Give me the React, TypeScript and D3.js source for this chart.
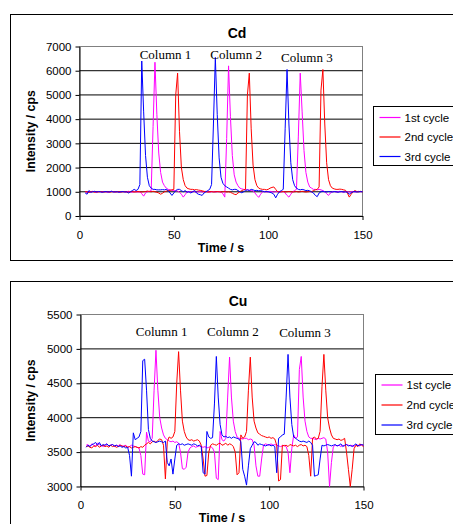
import React, { useEffect, useRef } from "react";
import * as d3 from "d3";

// one reading per second, 3 s .. 150 s
const times = d3.range(3, 151);

const seriesNames = ["1st cycle", "2nd cycle", "3rd cycle"];
const seriesColors = ["#ff00ff", "#ff0000", "#0000ff"];
const columnNames = ["Column 1", "Column 2", "Column 3"];
const timeTicks = [0, 50, 100, 150];
const cdTicks = [0, 1000, 2000, 3000, 4000, 5000, 6000, 7000];
const cuTicks = [3000, 3500, 4000, 4500, 5000, 5500];

// Cd, counts per second
const cd1st = [
  1000, 980, 1010, 990, 1020, 1000, 970, 1010, 1000, 990,
  1010, 1000, 980, 1000, 1020, 990, 1000, 1010, 980, 1000,
  1010, 990, 1000, 1020, 1000, 980, 1010, 1000, 990, 1000,
  920, 820, 950, 1000, 1020, 1050, 3700, 6350, 4200, 2600,
  1800, 1400, 1250, 1150, 1100, 1080, 1060, 1050, 1040, 1030,
  980, 900, 780, 880, 1000, 1010, 990, 1000, 1010, 980,
  1000, 1010, 990, 1000, 1020, 1000, 980, 1000, 1010, 990,
  1000, 1010, 990, 920, 780, 3200, 6200, 4100, 2500, 1700,
  1400, 1250, 1150, 1120, 1100, 1090, 1080, 1070, 1050, 1040,
  950, 850, 770, 900, 1000, 1010, 990, 1000, 1020, 1000,
  990, 1000, 1010, 990, 1000, 1010, 950, 850, 780, 900,
  1000, 1050, 1100, 3300, 5900, 4300, 2700, 1800, 1400, 1200,
  1150, 1100, 1100, 1080, 1100, 1080, 1050, 1000, 920, 850,
  950, 1000, 1010, 990, 1000, 1020, 1000, 980, 1010, 1000,
  990, 1000, 1010, 990, 1000, 1020, 1000, 1010,
];
const cd2nd = [
  1010, 990, 970, 1000, 1010, 980, 1000, 990, 1010, 1000,
  990, 1000, 1010, 980, 1000, 1010, 990, 1000, 1010, 990,
  1000, 1010, 990, 980, 1000, 1010, 990, 1000, 1010, 1000,
  990, 1000, 1010, 1030, 1010, 1000, 1020, 1000, 980, 950,
  900, 940, 1000, 1030, 1050, 1060, 1080, 1100, 5000, 5900,
  3500, 2000, 1500, 1250, 1150, 1120, 1100, 1100, 1080, 1090,
  1070, 1060, 1040, 1020, 1000, 990, 1000, 1010, 990, 1000,
  1010, 1000, 990, 1000, 1010, 990, 1000, 980, 940, 900,
  880, 950, 1000, 1050, 1080, 1100, 5000, 5900, 3600, 2100,
  1500, 1250, 1150, 1120, 1100, 1100, 1080, 1100, 1150, 1180,
  1200, 1100, 1000, 990, 1000, 1010, 990, 1000, 1010, 1000,
  990, 1000, 1010, 990, 1000, 1020, 1000, 990, 1000, 1010,
  1000, 1050, 1080, 1100, 1200, 5200, 6050, 3800, 2200, 1500,
  1250, 1150, 1120, 1100, 1100, 1110, 1100, 1080, 1060, 950,
  780, 900, 1000, 1050, 1010, 1000, 1020, 1000,
];
const cd3rd = [
  950, 900, 1050, 980, 1000, 1020, 990, 1010, 1000, 980,
  1000, 1010, 990, 1000, 1020, 990, 1000, 1000, 980, 1000,
  1010, 990, 1000, 950, 1000, 1050, 1100, 1050, 1100, 1300,
  6400, 4300, 2500, 1600, 1250, 1150, 1100, 1100, 1080, 1080,
  1080, 1090, 1080, 1100, 1050, 950, 850, 950, 1050, 1100,
  1100, 1050, 1000, 1050, 980, 1000, 950, 1000, 1050, 950,
  900, 880, 850, 950, 1000, 1050, 1100, 1300, 3800, 6550,
  4200, 2400, 1600, 1350, 1250, 1200, 1150, 1100, 1080, 1100,
  1100, 1050, 1000, 960, 1000, 1050, 1080, 1050, 1100, 1080,
  1050, 1060, 1040, 1050, 1030, 1000, 1010, 1000, 980, 950,
  900, 750, 900, 1000, 1050, 1100, 3600, 6050, 3800, 2200,
  1500, 1250, 1150, 1100, 1080, 1100, 1080, 1050, 1060, 1040,
  1000, 950, 850, 800, 950, 1000, 1020, 1000, 990, 1010,
  1000, 990, 1010, 1000, 980, 1000, 1010, 990, 1000, 980,
  900, 960, 1000, 1010, 990, 1000, 1010, 1000,
];

// Cu, counts per second
const cu1st = [
  3600, 3610, 3580, 3620, 3600, 3590, 3630, 3610, 3600, 3580,
  3600, 3620, 3590, 3600, 3610, 3580, 3600, 3590, 3610, 3580,
  3590, 3600, 3570, 3580, 3600, 3590, 3580, 3570, 3560, 3450,
  3180, 3170, 3790, 3660, 3650, 3700, 4400, 4980, 4400, 4000,
  3850, 3750, 3700, 3680, 3660, 3650, 3660, 3640, 3650, 3630,
  3500, 3260, 3250, 3280, 3500, 3560, 3580, 3590, 3570, 3580,
  3590, 3580, 3570, 3580, 3560, 3570, 3580, 3560, 3500, 3120,
  3100, 3800, 3680, 3660, 3700, 4300, 4880, 4300, 3950, 3800,
  3720, 3700, 3700, 3690, 3700, 3700, 3680, 3690, 3680, 3600,
  3300, 3150, 3150, 3400, 3600, 3620, 3610, 3600, 3620, 3600,
  3610, 3600, 3590, 3580, 3590, 3600, 3580, 3500, 3200, 3550,
  3750, 3700, 3720, 4700, 4890, 4300, 3950, 3800, 3720, 3700,
  3700, 3690, 3680, 3700, 3690, 3700, 3710, 3690, 3500, 3000,
  3350, 3580, 3600, 3590, 3600, 3580, 3600, 3590, 3610, 3600,
  3590, 3600, 3580, 3610, 3600, 3590, 3610, 3600,
];
const cu2nd = [
  3580, 3590, 3570, 3560, 3590, 3580, 3600, 3570, 3590, 3600,
  3580, 3590, 3570, 3600, 3580, 3590, 3570, 3580, 3600, 3590,
  3580, 3590, 3570, 3580, 3560, 3570, 3580, 3570, 3560, 3580,
  3570, 3600, 3620, 3640, 3620, 3650, 3660, 3640, 3670, 3690,
  3680, 3600, 3110, 3650, 3720, 3700, 3720, 3800, 4500, 4960,
  4400, 3950, 3800, 3720, 3680, 3670, 3680, 3660, 3670, 3680,
  3660, 3600, 3400, 3150, 3160, 3500, 3600, 3620, 3610, 3600,
  3620, 3630, 3600, 3610, 3630, 3600, 3620, 3610, 3580, 3500,
  3170, 3200, 3750, 3700, 3720, 3800, 4400, 4880, 4300, 3950,
  3850, 3780, 3760, 3740, 3730, 3720, 3710, 3720, 3700, 3710,
  3690, 3600, 3080, 3100, 3600, 3590, 3600, 3580, 3610, 3600,
  3590, 3600, 3580, 3600, 3610, 3590, 3600, 3580, 3450, 3150,
  3700, 3720, 3690, 3700, 3800, 4450, 4920, 4400, 4000, 3850,
  3750, 3700, 3690, 3680, 3690, 3670, 3680, 3700, 3500, 3250,
  3000, 3250, 3550, 3600, 3580, 3620, 3600, 3580,
];
const cu3rd = [
  3570, 3600, 3580, 3610, 3620, 3640, 3600, 3640, 3590, 3610,
  3600, 3620, 3590, 3600, 3610, 3590, 3600, 3580, 3590, 3570,
  3580, 3560, 3570, 3450, 3150, 3780, 3680, 3700, 3720, 3800,
  4830, 4850, 4400, 3830, 3700, 3660, 3650, 3640, 3650, 3660,
  3650, 3640, 3660, 3350, 3300, 3400, 3180, 3400, 3600, 3620,
  3610, 3620, 3600, 3610, 3620, 3610, 3600, 3620, 3610, 3590,
  3600, 3580, 3200, 3180, 3800, 3720, 3700, 3710, 4200, 4890,
  4300, 3900, 3750, 3720, 3730, 3710, 3720, 3700, 3720, 3710,
  3700, 3690, 3650, 3250, 3150, 3020, 3300, 3550, 3600, 3650,
  3640, 3600, 3620, 3610, 3600, 3590, 3600, 3610, 3590, 3600,
  3580, 3200, 3700, 3720, 3750, 3760, 4300, 4920, 4300, 3900,
  3720, 3700, 3680, 3660, 3650, 3660, 3650, 3640, 3660, 3640,
  3600, 3150, 3160, 3170, 3400, 3600, 3590, 3600, 3610, 3600,
  3590, 3600, 3610, 3590, 3600, 3620, 3580, 3600, 3610, 3590,
  3600, 3580, 3600, 3620, 3590, 3600, 3610, 3600,
];

const SANS = "Arial, 'Liberation Sans', sans-serif";
const SERIF = "'Times New Roman', 'Liberation Serif', serif";

function drawChart(root, c) {
  const g = root.append("g");

  // outer frame (runs off the right edge of the page)
  g.append("rect")
    .attr("x", c.frame[0]).attr("y", c.frame[1])
    .attr("width", c.frame[2]).attr("height", c.frame[3])
    .attr("fill", "white").attr("stroke", "black").attr("stroke-width", 1);

  var x = d3.scaleLinear().domain([0, 150]).range([c.left, c.right]);
  var y = d3.scaleLinear().domain([c.ticks[0], c.ticks[c.ticks.length - 1]]).range([c.bottom, c.top]);

  // plot area border (grey top/right)
  g.append("rect")
    .attr("x", c.left).attr("y", c.top)
    .attr("width", c.right - c.left).attr("height", c.bottom - c.top)
    .attr("fill", "white").attr("stroke", "#808080");

  // gridlines
  g.selectAll(".grid")
    .data(c.ticks.slice(1, -1))
    .enter()
    .append("line")
    .attr("x1", c.left).attr("x2", c.right)
    .attr("y1", d => y(d)).attr("y2", d => y(d))
    .attr("stroke", "black").attr("stroke-width", 1);

  // axes
  const yAxis = g.append("g")
    .attr("transform", "translate(" + c.left + ",0)")
    .call(d3.axisLeft(y).tickValues(c.ticks).tickSize(4).tickSizeOuter(0).tickPadding(4).tickFormat(d3.format("d")));
  const xAxis = g.append("g")
    .attr("transform", "translate(0," + c.bottom + ")")
    .call(d3.axisBottom(x).tickValues(timeTicks).tickSize(4).tickSizeOuter(0).tickPadding(c.xPad).tickFormat(d3.format("d")));
  [yAxis, xAxis].forEach(a => {
    a.selectAll("text").style("font-family", SANS).style("font-size", "11.5px").attr("fill", "black");
    a.selectAll("line,path").attr("stroke", "black");
  });

  // series
  const line = d3.line().x((d, i) => x(times[i])).y(d => y(d));
  c.series.forEach((s, i) => {
    g.append("path")
      .attr("d", line(s))
      .attr("fill", "none")
      .attr("stroke", seriesColors[i])
      .attr("stroke-width", 1);
  });

  // column annotations
  columnNames.forEach((name, i) => {
    g.append("text")
      .attr("x", x(c.columnAt[i][0])).attr("y", y(c.columnAt[i][1]))
      .attr("text-anchor", "middle")
      .style("font-family", SERIF).style("font-size", "13px")
      .text(name);
  });

  // titles
  g.append("text")
    .attr("x", c.titleX).attr("y", c.titleY)
    .attr("text-anchor", "middle")
    .style("font-family", SANS).style("font-size", "14px").style("font-weight", "bold")
    .text(c.title);
  g.append("text")
    .attr("x", (c.left + c.right) / 2).attr("y", c.xLabelY)
    .attr("text-anchor", "middle")
    .style("font-family", SANS).style("font-size", "12.5px").style("font-weight", "bold")
    .text("Time / s");
  g.append("text")
    .attr("transform", "translate(35," + (c.top + c.bottom) / 2 + ")rotate(-90)")
    .attr("text-anchor", "middle")
    .style("font-family", SANS).style("font-size", "12.3px").style("font-weight", "bold")
    .text("Intensity / cps");

  // legend
  const lg = g.append("g").attr("transform", "translate(" + c.legend[0] + "," + c.legend[1] + ")");
  lg.append("rect")
    .attr("width", 100).attr("height", c.legend[2])
    .attr("fill", "white").attr("stroke", "black");
  seriesNames.forEach((name, i) => {
    const ly = c.legend[3] + i * c.legend[4];
    lg.append("line")
      .attr("x1", 6).attr("x2", 27).attr("y1", ly).attr("y2", ly)
      .attr("stroke", seriesColors[i]).attr("stroke-width", 1.2);
    lg.append("text")
      .attr("x", 31).attr("y", ly).attr("dy", "0.35em")
      .style("font-family", SANS).style("font-size", "11.5px")
      .text(name);
  });
}

export default function App() {
  const ref = useRef(null);

  useEffect(() => {
    const svg = d3.select(ref.current);
    svg.selectAll("*").remove();

    drawChart(svg, {
      title: "Cd", titleX: 237, titleY: 38,
      frame: [10.5, 14.5, 460, 246],
      left: 79.5, right: 362.5, top: 46.5, bottom: 216,
      ticks: cdTicks, xPad: 11, xLabelY: 252,
      series: [cd1st, cd2nd, cd3rd],
      columnAt: [[45.6, 6480], [83, 6480], [120.5, 6370]],
      legend: [373.5, 106.5, 59, 11, 19.5],
    });

    drawChart(svg, {
      title: "Cu", titleX: 238, titleY: 306,
      frame: [10.5, 281.5, 460, 260],
      left: 80.5, right: 363.5, top: 314.5, bottom: 486.5,
      ticks: cuTicks, xPad: 10, xLabelY: 522,
      series: [cu1st, cu2nd, cu3rd],
      columnAt: [[43, 5185], [80.8, 5185], [119, 5175]],
      legend: [375.5, 374.5, 60, 10.5, 20],
    });
  }, []);

  return (
    <svg
      ref={ref}
      width={453}
      height={524}
      style={{ position: "absolute", left: 0, top: 0, background: "white" }}
    />
  );
}
